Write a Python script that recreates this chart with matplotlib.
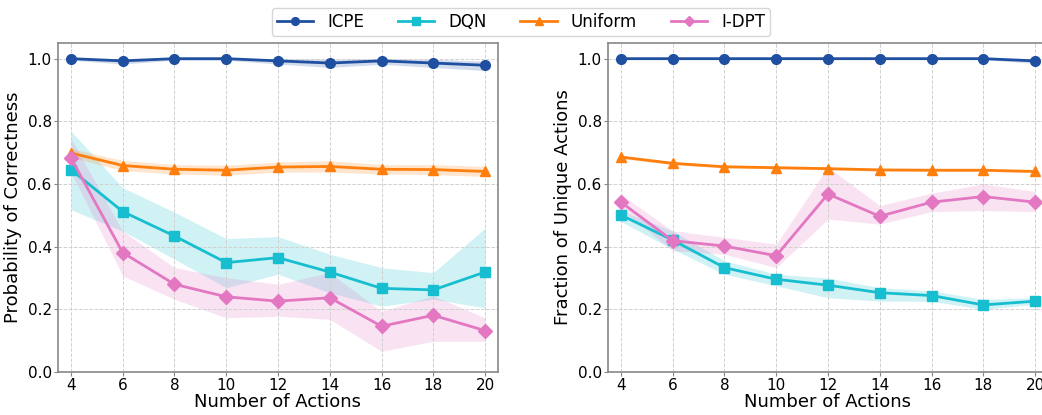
import numpy as np
import matplotlib.pyplot as plt

actions = [4, 6, 8, 10, 12, 14, 16, 18, 20]

# left panel: probability of correctness
icpe_corr = [1.0, 0.993, 1.0, 1.0, 0.993, 0.986, 0.993, 0.986, 0.979]
icpe_corr_lo = [0.995, 0.983, 0.995, 0.995, 0.983, 0.972, 0.982, 0.972, 0.962]
icpe_corr_hi = [1.0, 1.0, 1.0, 1.0, 1.0, 0.998, 1.0, 0.998, 0.992]
dqn_corr = [0.646, 0.512, 0.434, 0.349, 0.365, 0.319, 0.267, 0.262, 0.319]
dqn_corr_lo = [0.518, 0.45, 0.36, 0.269, 0.312, 0.253, 0.21, 0.232, 0.205]
dqn_corr_hi = [0.769, 0.588, 0.51, 0.426, 0.432, 0.376, 0.333, 0.317, 0.459]
unif_corr = [0.699, 0.659, 0.647, 0.644, 0.654, 0.656, 0.647, 0.646, 0.640]
unif_corr_lo = [0.685, 0.643, 0.632, 0.628, 0.638, 0.638, 0.632, 0.630, 0.624]
unif_corr_hi = [0.713, 0.675, 0.662, 0.660, 0.670, 0.674, 0.662, 0.662, 0.656]
idpt_corr = [0.683, 0.381, 0.280, 0.240, 0.226, 0.237, 0.146, 0.181, 0.132]
idpt_corr_lo = [0.638, 0.307, 0.232, 0.173, 0.178, 0.168, 0.066, 0.098, 0.098]
idpt_corr_hi = [0.745, 0.45, 0.333, 0.301, 0.28, 0.317, 0.194, 0.243, 0.173]

# right panel: fraction of unique actions
icpe_uniq = [1.0, 1.0, 1.0, 1.0, 1.0, 1.0, 1.0, 1.0, 0.993]
icpe_uniq_lo = [0.997, 0.997, 0.997, 0.997, 0.997, 0.997, 0.997, 0.997, 0.985]
icpe_uniq_hi = [1.0, 1.0, 1.0, 1.0, 1.0, 1.0, 1.0, 1.0, 1.0]
dqn_uniq = [0.501, 0.421, 0.333, 0.296, 0.277, 0.253, 0.244, 0.214, 0.226]
dqn_uniq_lo = [0.48, 0.392, 0.312, 0.275, 0.237, 0.226, 0.226, 0.2, 0.216]
dqn_uniq_hi = [0.515, 0.45, 0.355, 0.312, 0.30, 0.269, 0.259, 0.232, 0.237]
unif_uniq = [0.686, 0.666, 0.655, 0.652, 0.649, 0.645, 0.644, 0.644, 0.640]
unif_uniq_lo = [0.681, 0.661, 0.651, 0.648, 0.645, 0.641, 0.640, 0.640, 0.636]
unif_uniq_hi = [0.691, 0.671, 0.659, 0.656, 0.653, 0.649, 0.648, 0.648, 0.644]
idpt_uniq = [0.542, 0.419, 0.402, 0.371, 0.568, 0.497, 0.542, 0.560, 0.542]
idpt_uniq_lo = [0.52, 0.387, 0.376, 0.333, 0.488, 0.472, 0.512, 0.515, 0.512]
idpt_uniq_hi = [0.567, 0.45, 0.43, 0.408, 0.654, 0.531, 0.571, 0.600, 0.576]

colors = {'ICPE': '#1f4fa0', 'DQN': '#17becf', 'Uniform': '#ff7f0e', 'I-DPT': '#e377c2'}
markers = {'ICPE': 'o', 'DQN': 's', 'Uniform': '^', 'I-DPT': 'D'}

left_series = {
    'ICPE': (icpe_corr, icpe_corr_lo, icpe_corr_hi),
    'DQN': (dqn_corr, dqn_corr_lo, dqn_corr_hi),
    'Uniform': (unif_corr, unif_corr_lo, unif_corr_hi),
    'I-DPT': (idpt_corr, idpt_corr_lo, idpt_corr_hi),
}
right_series = {
    'ICPE': (icpe_uniq, icpe_uniq_lo, icpe_uniq_hi),
    'DQN': (dqn_uniq, dqn_uniq_lo, dqn_uniq_hi),
    'Uniform': (unif_uniq, unif_uniq_lo, unif_uniq_hi),
    'I-DPT': (idpt_uniq, idpt_uniq_lo, idpt_uniq_hi),
}

fig = plt.figure(figsize=(10.42, 4.15), dpi=100)
ax1 = fig.add_axes([58 / 1042, 43 / 415, 440 / 1042, 329 / 415])
ax2 = fig.add_axes([608 / 1042, 43 / 415, 440 / 1042, 329 / 415])


def draw(ax, series, ylabel):
    for name, (mean, lo, hi) in series.items():
        ax.fill_between(actions, lo, hi, color=colors[name], alpha=0.2, linewidth=0)
        ax.plot(actions, mean, color=colors[name], marker=markers[name],
                markersize=7, linewidth=2, label=name)
    ax.set_ylim(0, 1.05)
    ax.set_xlim(3.5, 20.5)
    ax.set_xticks(actions)
    ax.set_yticks([0.0, 0.2, 0.4, 0.6, 0.8, 1.0])
    ax.tick_params(labelsize=11, length=3, pad=1.5, color='#888888')
    ax.grid(True, linestyle='--', color='#d0d0d0', linewidth=0.7)
    ax.set_xlabel("Number of Actions", fontsize=13, labelpad=0)
    ax.set_ylabel(ylabel, fontsize=13, labelpad=4)
    for s in ax.spines.values():
        s.set_color('#888888')
        s.set_linewidth(1.2)


draw(ax1, left_series, "Probability of Correctness")
draw(ax2, right_series, "Fraction of Unique Actions")

handles, labels = ax1.get_legend_handles_labels()
fig.legend(handles, labels, loc='upper center', ncol=4, fontsize=12,
           bbox_to_anchor=(0.5, 1.0), frameon=True, markerscale=0.8,
           handlelength=2.2, handletextpad=0.85, columnspacing=2.0,
           borderpad=0.3)

plt.savefig("out.png", dpi=100)
